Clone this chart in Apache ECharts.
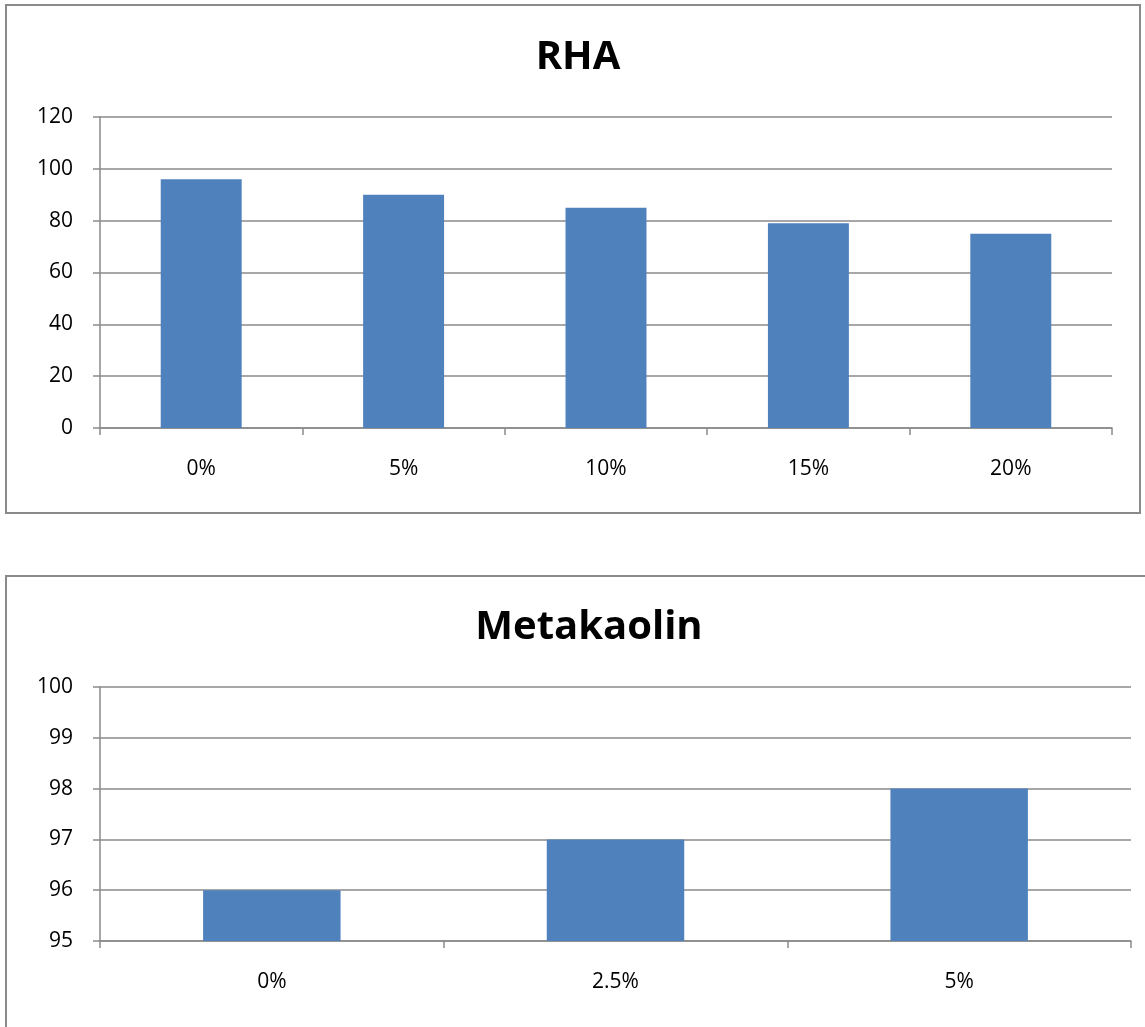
<!DOCTYPE html>
<html>
<head>
<meta charset="utf-8">
<style>
  html, body { margin: 0; padding: 0; background: #ffffff; }
  #chart { width: 1145px; height: 1027px; }
</style>
<script src="https://cdn.jsdelivr.net/npm/echarts@6/dist/echarts.min.js"></script>
</head>
<body>
<div id="chart"></div>
<script>
// RHA replacement levels and their values
const rhaCategories = ['0%', '5%', '10%', '15%', '20%'];
const rhaValues = [96, 90, 85, 79, 75];
const rhaTicks = { min: 0, max: 120, interval: 20 };

// Metakaolin replacement levels and their values
const mkCategories = ['0%', '2.5%', '5%'];
const mkValues = [96, 97, 98];
const mkTicks = { min: 95, max: 100, interval: 1 };

const FONT = '"Open Sans", "Liberation Sans", sans-serif';
const GRAY = '#8a8a8a';
const BAR = '#4F81BD';

const chart = echarts.init(document.getElementById('chart'), null, { renderer: 'canvas' });

function xAxisFor(gridIndex, cats) {
  return {
    type: 'category',
    gridIndex,
    data: cats,
    boundaryGap: true,
    axisLine: { show: true, lineStyle: { color: GRAY, width: 1.5 } },
    axisTick: { show: true, length: 7, lineStyle: { color: GRAY, width: 1.5 } },
    axisLabel: { color: '#000', fontFamily: FONT, fontSize: 21, margin: 31 },
    splitLine: { show: false }
  };
}

function yAxisFor(gridIndex, t) {
  return {
    type: 'value',
    gridIndex,
    min: t.min,
    max: t.max,
    interval: t.interval,
    axisLine: { show: true, lineStyle: { color: GRAY, width: 1.5 } },
    axisTick: { show: true, length: 7, lineStyle: { color: GRAY, width: 1.5 } },
    axisLabel: { color: '#000', fontFamily: FONT, fontSize: 21, margin: 27 },
    splitLine: { show: true, lineStyle: { color: GRAY, width: 1.5 } }
  };
}

chart.setOption({
  animation: false,
  backgroundColor: '#ffffff',
  title: [
    {
      text: 'RHA',
      left: 573, top: 33, textAlign: 'center',
      textStyle: { fontFamily: FONT, fontWeight: 'bold', fontSize: 40, color: '#000' }
    },
    {
      text: 'Metakaolin',
      left: 584, top: 603, textAlign: 'center',
      textStyle: { fontFamily: FONT, fontWeight: 'bold', fontSize: 40, color: '#000' }
    }
  ],
  graphic: [
    {
      type: 'rect',
      shape: { x: 6, y: 5, width: 1134, height: 508 },
      style: { fill: 'none', stroke: GRAY, lineWidth: 2 },
      silent: true, z: -1
    },
    {
      type: 'rect',
      shape: { x: 6, y: 576, width: 1156, height: 480 },
      style: { fill: 'none', stroke: GRAY, lineWidth: 2 },
      silent: true, z: -1
    }
  ],
  grid: [
    { left: 100, top: 117, width: 1012, height: 311 },
    { left: 100, top: 687, width: 1031, height: 254 }
  ],
  xAxis: [xAxisFor(0, rhaCategories), xAxisFor(1, mkCategories)],
  yAxis: [yAxisFor(0, rhaTicks), yAxisFor(1, mkTicks)],
  series: [
    {
      type: 'bar',
      xAxisIndex: 0, yAxisIndex: 0,
      data: rhaValues,
      barWidth: '40%',
      itemStyle: { color: BAR }
    },
    {
      type: 'bar',
      xAxisIndex: 1, yAxisIndex: 1,
      data: mkValues,
      barWidth: '40%',
      itemStyle: { color: BAR }
    }
  ]
});
</script>
</body>
</html>
